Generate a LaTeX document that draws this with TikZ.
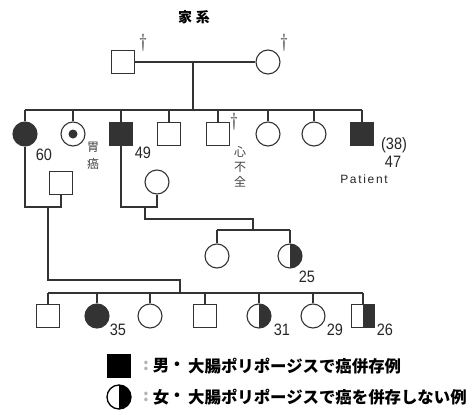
\documentclass[tikz,border=0pt]{standalone}
\usepackage{fontspec}
\newfontfamily\jp{Noto Sans CJK JP}
\newfontfamily\numf[FakeStretch=0.88]{Liberation Sans}
\newfontfamily\patf[LetterSpace=14]{Liberation Sans}
\begin{document}
\begin{tikzpicture}[x=1pt,y=-1pt,
  ln/.style={line width=1.1pt, draw=black!80},
  male/.style={rectangle, draw=black!80, line width=1.1pt, minimum size=23pt, inner sep=0pt},
  female/.style={circle, draw=black!80, line width=1.1pt, minimum size=24pt, inner sep=0pt},
  aff/.style={fill=black!80},
  halfaff/.style={path picture={\fill[black!80] (path picture bounding box.north) rectangle (path picture bounding box.south east);}},
  dotc/.style={path picture={\fill[black!80] (path picture bounding box.center) circle (4.5pt);}},
  num/.style={font=\numf\fontsize{16.5}{16.5}\selectfont, text=black!85, inner sep=0pt},
  jps/.style={font=\jp\fontsize{12}{12}\selectfont, text=black!75, inner sep=0pt},
  dag/.style={font=\fontsize{19}{19}\selectfont, text=black!80, inner sep=0pt},
  leg/.style={font=\jp\bfseries\fontsize{16.4}{17}\selectfont, inner sep=0pt}
]
\useasboundingbox (0,0) rectangle (472,415);
% title
\node[font=\jp\bfseries\fontsize{14}{14}\selectfont, inner sep=0pt] (title) at (194,17) {家\hspace{4pt}系};
% generation 1
\node[male] (F1) at (123,62) {};
\node[female] (M1) at (268,62) {};
\node[dag] (d1) at (143,43) {\dag};
\node[dag] (d2) at (284,43) {\dag};
\draw[ln] (F1.east) -- (M1.west);
\coordinate (m1) at (193,62);
\coordinate (b1) at (193,110);
\draw[ln] (m1) -- (b1);
% generation 2
\node[female,aff] (A) at (25,134) {};
\node[female,dotc] (B) at (73,134) {};
\node[male,aff] (C) at (121,134) {};
\node[male] (D) at (169,134) {};
\node[male] (E) at (218,134) {};
\node[female] (G) at (268,134) {};
\node[female] (H) at (314,134) {};
\node[male,aff] (P) at (362,134) {};
\draw[ln] (A.north |- b1) -- (P.north |- b1);
\foreach \n in {A,B,C,D,E,G,H,P} \draw[ln] (\n.north) -- (\n.north |- b1);
\node[num] (l60) at (44,155) {60};
\node[jps] (g1) at (93,147) {胃};
\node[jps] (g2) at (93,164) {癌};
\node[num] (l49) at (143,153) {49};
\node[dag] (d3) at (234,122) {\dag};
\node[jps] (h1) at (240,152) {心};
\node[jps] (h2) at (240,167) {不};
\node[jps] (h3) at (240,182) {全};
\node[num] (l38) at (394,145) {(38)};
\node[num] (l47) at (393,162) {47};
\node[font=\patf\fontsize{12}{12}\selectfont, inner sep=0pt, text=black!85] (pt) at (364,179) {Patient};
% spouses
\node[male] (AS) at (61,183) {};
\node[female] (CS) at (157,182) {};
\coordinate (ma) at (48,207);
\draw[ln] (A.south) -- (A.south |- ma) -- (AS.south |- ma) -- (AS.south);
\coordinate (mc) at (145,207);
\draw[ln] (C.south) -- (C.south |- mc) -- (CS.south |- mc) -- (CS.south);
% children of C
\coordinate (kc) at (253,219);
\coordinate (b2) at (253,230);
\draw[ln] (mc) -- (mc |- kc) -- (kc) -- (b2);
\node[female] (K1) at (217,256) {};
\node[female,halfaff] (K2) at (290,256) {};
\draw[ln] (K1.north |- b2) -- (K2.north |- b2);
\foreach \n in {K1,K2} \draw[ln] (\n.north) -- (\n.north |- b2);
\node[num] (l25) at (307,277) {25};
% children of A
\coordinate (k3) at (180,280);
\coordinate (b3) at (180,293);
\draw[ln] (ma) -- (ma |- k3) -- (k3) -- (b3);
\node[male] (S1) at (48,316) {};
\node[female,aff] (S2) at (97,316) {};
\node[female] (S3) at (150,316) {};
\node[male] (S4) at (205,316) {};
\node[female,halfaff] (S5) at (259,316) {};
\node[female] (S6) at (313,316) {};
\node[male,halfaff] (S7) at (363,316) {};
\draw[ln] (S1.north |- b3) -- (S7.north |- b3);
\foreach \n in {S1,S2,S3,S4,S5,S6,S7} \draw[ln] (\n.north) -- (\n.north |- b3);
\node[num] (l35) at (118,330) {35};
\node[num] (l31) at (282,330) {31};
\node[num] (l29) at (335,330) {29};
\node[num] (l26) at (385,330) {26};
% legend
\node[rectangle, fill=black, minimum size=24pt, inner sep=0pt] (LS) at (119,366) {};
\node[circle, draw=black, line width=1.3pt, minimum size=24pt, inner sep=0pt,
  path picture={\fill[black] (path picture bounding box.north) rectangle (path picture bounding box.south east);}] (LC) at (119,397) {};
\node[leg, text=black!30] (c1) at (146,366) {:};
\node[leg] (t1a) at (161,366) {男};
\node[leg] (t1b) at (177,366) {・};
\node[leg, anchor=west] (t1) at (188,366) {大腸ポリポージスで癌併存例};
\node[leg, text=black!30] (c2) at (146,397) {:};
\node[leg] (t2a) at (161,397) {女};
\node[leg] (t2b) at (177,397) {・};
\node[leg, anchor=west] (t2) at (188,397) {大腸ポリポージスで癌を併存しない例};
\end{tikzpicture}
\end{document}
